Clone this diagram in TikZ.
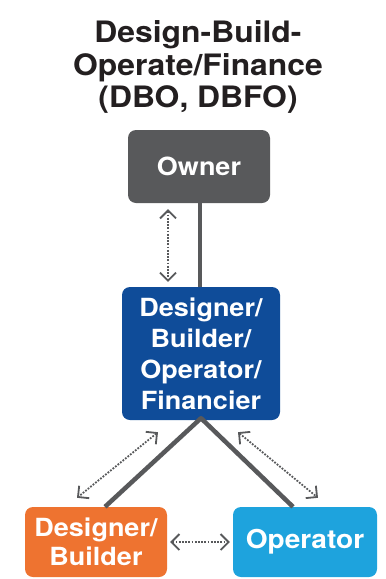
\documentclass[tikz,border=0pt]{standalone}
\usepackage{fontspec}
\setsansfont[FakeStretch=1.08]{TeX Gyre Heros}
\usetikzlibrary{arrows.meta}
\definecolor{ownergray}{HTML}{58595B}
\definecolor{dbblue}{HTML}{0F4C99}
\definecolor{dborange}{HTML}{EE7330}
\definecolor{opblue}{HTML}{1EA3DD}
\definecolor{titleink}{HTML}{231F20}
\tikzset{
 box/.style={rounded corners=8pt,text=white,align=center,inner sep=0pt,
  font=\sffamily\bfseries\fontsize{25}{31}\selectfont},
 link/.style={ownergray,line width=4.5pt},
 dotarrow/.style={ownergray,line width=1.8pt,dash pattern=on 1.8pt off 1.4pt,
  {Straight Barb[length=8pt,width=16pt,line width=1.8pt]}-{Straight Barb[length=8pt,width=16pt,line width=1.8pt]}}
}
\begin{document}
\begin{tikzpicture}[x=1pt,y=-1pt]
\useasboundingbox (0,0) rectangle (386,579);

\node[align=center,titleink,font=\sffamily\bfseries\fontsize{29.5}{32.5}\selectfont] (title) at (198,67)
 {Design-Build-\\Operate/Finance\\(DBO, DBFO)};
%
\node[box,fill=ownergray,minimum width=142pt,minimum height=73pt] (owner) at (199,166.5) {Owner};
\node[box,fill=dbblue,minimum width=158pt,minimum height=133pt] (dbof) at (201,353.5)
 {Designer/\\Builder/\\Operator/\\Financier};
\node[box,fill=dborange,minimum width=142pt,minimum height=70pt,font=\sffamily\bfseries\fontsize{25}{29}\selectfont] (db) at (96,542)
 {Designer/\\Builder};
\node[box,fill=opblue,minimum width=144pt,minimum height=70pt,font=\sffamily\bfseries\fontsize{26}{31}\selectfont] (op) at (305,542) {Operator};
%
\draw[link] ([xshift=1pt]owner.south) -- ([xshift=-1pt]dbof.north);
\draw[link,line join=round] ([xshift=9pt]db.north) -- ([yshift=2pt]dbof.south) -- ([xshift=-12pt]op.north);
%
\draw[dotarrow] ([shift={(-31,6)}]owner.south) -- ([shift={(-33,-5)}]dbof.north);
\draw[dotarrow] ([shift={(-43,12)}]dbof.south) -- ([shift={(-19,-9)}]db.north);
\draw[dotarrow] ([shift={(37,12)}]dbof.south) -- ([shift={(13,-9)}]op.north);
\draw[dotarrow] ([xshift=3pt]db.east) -- ([xshift=-3pt]op.west);
\end{tikzpicture}
\end{document}
